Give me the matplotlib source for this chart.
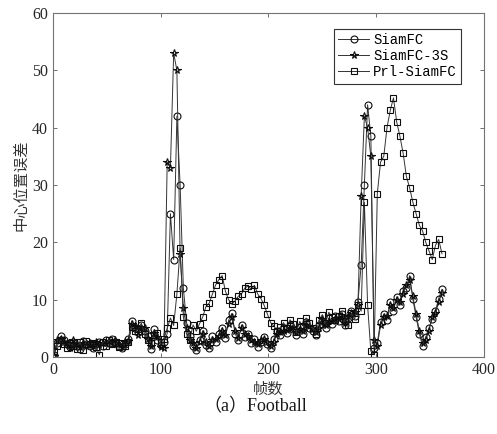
import numpy as np
import matplotlib
matplotlib.use('Agg')
import matplotlib.pyplot as plt

# frame index (every 3rd frame of the sequence)
frames = np.arange(1, 362, 3)

siamfc = [0.3, 2.5, 3.6, 3.0, 2.2, 1.8, 2.6, 2.0, 1.4, 2.8, 2.3, 1.9,
          1.6, 2.2, 2.7, 2.0, 2.9, 2.4, 3.1, 2.6, 2.0, 1.5, 2.3, 3.2,
          6.3, 5.0, 4.3, 5.6, 4.6, 3.6, 1.4, 4.8, 3.0, 2.1, 2.6, 4.1,
          25.0, 17.0, 42.0, 30.0, 12.0, 6.0, 3.6, 2.0, 1.2, 3.0, 4.6, 2.1,
          1.5, 3.6, 2.6, 4.0, 5.1, 3.4, 6.4, 7.6, 4.1, 3.0, 5.6, 3.5,
          4.1, 2.5, 3.1, 1.8, 2.6, 3.5, 2.2, 1.5, 3.1, 4.6, 3.8, 5.0,
          4.2, 5.6, 4.8, 3.8, 5.2, 4.0, 6.1, 5.0, 4.5, 3.8, 5.5, 6.2,
          5.0, 6.8, 5.8, 7.1, 6.2, 7.5, 5.5, 6.8, 8.1, 7.2, 9.6, 16.0,
          30.0, 44.0, 38.5, 1.5, 2.5, 6.1, 7.5, 6.5, 9.6, 8.1, 10.5, 9.0,
          11.6, 12.1, 14.2, 10.1, 7.0, 4.1, 1.9, 3.5, 5.1, 6.6, 8.1, 10.2, 11.8]

siamfc_3s = [0.2, 3.0, 3.2, 2.6, 2.5, 1.5, 2.9, 2.3, 1.8, 2.5, 2.0, 2.4,
             1.9, 2.6, 2.3, 2.4, 2.5, 2.8, 2.7, 3.0, 2.3, 1.8, 2.6, 2.8,
             5.8, 5.4, 3.9, 5.0, 5.1, 3.2, 2.0, 4.2, 3.5, 1.8, 1.5, 34.0,
             33.0, 53.0, 50.0, 18.0, 8.5, 5.0, 3.0, 2.5, 1.6, 2.6, 4.0, 2.6,
             2.0, 3.0, 3.1, 3.6, 4.6, 3.9, 5.8, 7.0, 4.6, 3.4, 5.0, 4.0,
             3.6, 2.9, 2.6, 2.2, 3.0, 3.1, 2.6, 1.9, 2.7, 4.1, 4.3, 4.6,
             4.7, 5.1, 5.2, 4.3, 4.8, 4.5, 5.6, 5.4, 4.9, 4.3, 5.0, 6.6,
             5.5, 6.3, 6.2, 6.7, 6.6, 7.0, 6.0, 7.2, 7.6, 7.8, 9.0, 28.0,
             42.0, 40.0, 35.0, 3.0, 2.0, 5.5, 7.0, 7.2, 9.0, 8.6, 10.0, 9.6,
             11.0, 12.6, 13.5, 10.6, 7.5, 4.6, 2.4, 3.0, 4.6, 7.0, 7.6, 9.6, 11.2]

prl_siamfc = [1.0, 2.0, 3.0, 2.2, 1.6, 2.4, 2.0, 1.4, 2.6, 1.2, 2.8, 2.2,
              2.4, 1.7, 0.4, 2.6, 2.0, 3.0, 2.2, 2.5, 1.8, 2.4, 2.0, 2.6,
              5.2, 4.6, 4.8, 5.9, 4.0, 3.0, 2.4, 3.8, 4.2, 2.6, 3.2, 5.0,
              6.8, 5.5, 11.0, 19.0, 7.0, 4.0, 3.0, 5.6, 4.5, 5.8, 7.0, 8.8,
              9.4, 11.0, 12.6, 13.5, 14.2, 11.5, 10.0, 9.2, 9.8, 10.6, 11.0, 12.0,
              12.4, 11.8, 12.5, 11.0, 10.2, 9.0, 7.5, 6.0, 5.4, 4.6, 5.2, 6.0,
              5.0, 6.5, 5.8, 4.4, 6.2, 5.4, 6.8, 6.0, 5.0, 4.0, 6.4, 7.4,
              6.0, 7.8, 7.0, 6.5, 7.2, 8.0, 6.2, 5.5, 7.6, 6.6, 9.0, 8.0,
              27.0, 9.0, 1.0, 0.4, 28.5, 34.0, 35.0, 40.0, 43.0, 45.2, 41.0, 38.5,
              35.5, 31.5, 29.5, 27.0, 25.0, 23.0, 22.0, 20.0, 18.5, 17.0, 19.5, 20.5, 18.0]

fig = plt.figure(figsize=(4.97, 4.34), dpi=100)
ax = fig.add_axes([0.1066, 0.1774, 0.8672, 0.7926])

line_kw = dict(color='0.2', lw=0.7, markerfacecolor='none', markeredgecolor='0.05',
               markeredgewidth=0.8)
ax.plot(frames, siamfc, marker='o', markersize=5, label='SiamFC', **line_kw)
ax.plot(frames, siamfc_3s, marker='*', markersize=5.5, label='SiamFC-3S', **line_kw)
ax.plot(frames, prl_siamfc, marker='s', markersize=4.5, label='Prl-SiamFC', **line_kw)

ax.set_xlim(0, 400)
ax.set_ylim(0, 60)
ax.set_xticks([0, 100, 200, 300, 400])
ax.set_yticks([0, 10, 20, 30, 40, 50, 60])
ax.tick_params(direction='in', top=True, right=True, length=3, width=0.6,
               colors='0.35', labelcolor='0.15', labelsize=11.5)
for lab in ax.get_xticklabels() + ax.get_yticklabels():
    lab.set_family('Liberation Serif')
for sp in ax.spines.values():
    sp.set_color('0.45')
    sp.set_linewidth(0.8)

ax.set_xlabel('帧数', family=['Noto Sans CJK SC'], fontsize=11, color='0.2', labelpad=2)
ax.set_ylabel('中心位置误差', family=['Noto Sans CJK SC'], fontsize=11, color='0.2', labelpad=2)

leg = ax.legend(loc='upper right', bbox_to_anchor=(0.9466, 0.9535), borderaxespad=0,
                fancybox=False, edgecolor='0.2', framealpha=1, handlelength=2.2,
                handletextpad=0.3, borderpad=0.3, labelspacing=0.15,
                prop={'family': 'Liberation Mono', 'size': 10})
leg.get_frame().set_linewidth(0.8)

fig.text(0.513, 0.062, '（a）Football', ha='center', va='center',
         family=['Liberation Serif', 'Noto Sans CJK SC'], fontsize=13, color='0.1')

fig.savefig('out.png', dpi=100)
